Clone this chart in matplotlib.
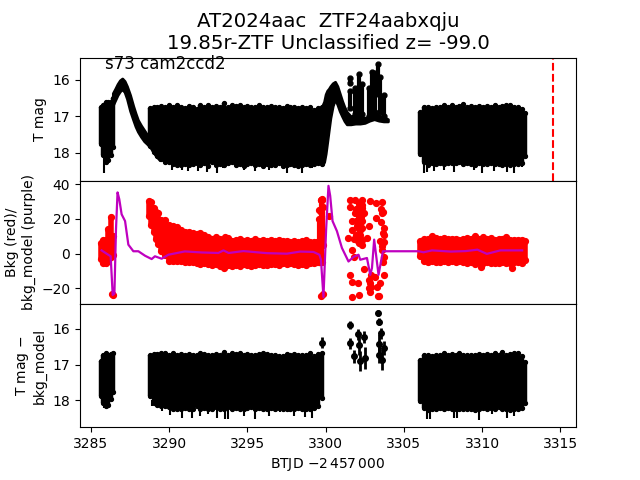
import matplotlib
matplotlib.use('Agg')
from matplotlib import pyplot as plt

# first sector chunk, T mag envelope
t_a = [3285.65, 3285.80, 3285.95, 3286.10, 3286.25, 3286.38]
top_a = [16.74, 16.68, 16.62, 16.60, 16.62, 16.50]
bot_a = [17.75, 18.05, 18.25, 18.20, 18.05, 17.85]

# the hump and its fall
t_hump = [3286.40, 3286.55, 3286.70, 3286.85, 3287.00, 3287.15, 3287.30, 3287.50, 3287.70, 3287.85, 3288.00, 3288.20, 3288.40, 3288.60, 3288.80, 3289.10, 3289.40]
top_hump = [16.37, 16.25, 16.12, 16.02, 15.97, 16.04, 16.18, 16.42, 16.72, 16.92, 17.10, 17.25, 17.38, 17.51, 17.65, 17.85, 18.00]
bot_hump = [16.70, 16.56, 16.42, 16.32, 16.26, 16.34, 16.52, 16.85, 17.10, 17.28, 17.42, 17.56, 17.68, 17.76, 17.85, 18.05, 18.20]

t_dense = [3288.75, 3289.00, 3289.25, 3289.50, 3289.75, 3290.00, 3290.25, 3290.50, 3290.75, 3291.00,
           3291.25, 3291.50, 3291.75, 3292.00, 3292.25, 3292.50, 3292.75, 3293.00, 3293.25, 3293.50,
           3293.75, 3294.00, 3294.25, 3294.50, 3294.75, 3295.00, 3295.25, 3295.50, 3295.75, 3296.00,
           3296.25, 3296.50, 3296.75, 3297.00, 3297.25, 3297.50, 3297.75, 3298.00, 3298.25, 3298.50,
           3298.75, 3299.00, 3299.25, 3299.50, 3299.75]
top_dense = [16.78, 16.74, 16.76, 16.72, 16.75, 16.68, 16.76, 16.70, 16.74, 16.77,
             16.72, 16.76, 16.80, 16.70, 16.74, 16.68, 16.74, 16.72, 16.76, 16.64,
             16.74, 16.70, 16.72, 16.68, 16.74, 16.72, 16.76, 16.74, 16.70, 16.74,
             16.76, 16.72, 16.76, 16.74, 16.78, 16.72, 16.76, 16.74, 16.78, 16.74,
             16.78, 16.74, 16.82, 16.78, 16.74]
bot_dense = [17.82, 17.97, 18.07, 18.17, 18.25, 18.25, 18.29, 18.33, 18.33, 18.31,
             18.33, 18.31, 18.27, 18.33, 18.27, 18.35, 18.25, 18.33, 18.29, 18.33,
             18.27, 18.25, 18.33, 18.29, 18.35, 18.31, 18.27, 18.33, 18.29, 18.35,
             18.31, 18.33, 18.33, 18.27, 18.35, 18.33, 18.31, 18.33, 18.35, 18.33,
             18.31, 18.33, 18.31, 18.27, 18.29]

# rise of the second hump and the flat stretch after it
t_rise = [3299.80, 3299.90, 3300.00, 3300.10, 3300.20, 3300.30, 3300.45, 3300.60, 3300.75, 3300.90, 3301.05, 3301.20, 3301.35,
          3301.60, 3301.90, 3302.20, 3302.50, 3302.80, 3303.10, 3303.40, 3303.70, 3303.98]
top_rise = [16.70, 16.60, 16.40, 16.30, 16.25, 16.18, 16.10, 16.06, 16.18, 16.38, 16.58, 16.75, 16.88,
            17.00, 16.96, 17.00, 17.04, 17.00, 16.90, 16.98, 17.02, 17.08]
bot_rise = [18.30, 18.25, 18.02, 17.70, 17.37, 17.05, 16.72, 16.53, 16.68, 16.86, 17.00, 17.13, 17.22,
            17.22, 17.20, 17.20, 17.18, 17.12, 17.08, 17.12, 17.14, 17.14]

# third chunk
t_b = [3306.05, 3306.30, 3306.55, 3306.80, 3307.05, 3307.30, 3307.55, 3307.80, 3308.05, 3308.30,
       3308.55, 3308.80, 3309.05, 3309.30, 3309.55, 3309.80, 3310.05, 3310.30, 3310.55, 3310.80,
       3311.05, 3311.30, 3311.55, 3311.80, 3312.05, 3312.30, 3312.55, 3312.72]
top_b = [16.88, 16.74, 16.74, 16.78, 16.74, 16.76, 16.68, 16.74, 16.70, 16.74,
         16.72, 16.66, 16.74, 16.72, 16.76, 16.72, 16.74, 16.72, 16.76, 16.68,
         16.74, 16.72, 16.68, 16.70, 16.74, 16.74, 16.80, 16.92]
bot_b = [18.02, 18.25, 18.33, 18.27, 18.31, 18.27, 18.29, 18.27, 18.27, 18.27,
         18.25, 18.29, 18.27, 18.31, 18.33, 18.27, 18.29, 18.31, 18.27, 18.31,
         18.29, 18.33, 18.31, 18.33, 18.29, 18.31, 18.27, 18.07]

# columns of points over the flat stretch, T mag
t_flare = [3301.57, 3301.57, 3301.89, 3302.10, 3302.32, 3302.74, 3302.95, 3303.17, 3303.32, 3303.49, 3303.70]
top_flare = [15.95, 16.32, 16.22, 15.85, 16.12, 16.22, 15.78, 15.82, 15.58, 15.92, 16.42]
bot_flare = [16.08, 16.78, 16.93, 16.93, 16.93, 16.98, 16.98, 16.88, 16.38, 16.88, 16.98]

# thin error bars under the bands
t_spike1 = [3285.83, 3290.17, 3290.80, 3291.23, 3291.87, 3292.40, 3293.04, 3293.47, 3294.75, 3295.50, 3296.35, 3297.52, 3298.48, 3299.12,
            3306.26, 3306.47, 3306.90, 3307.54, 3308.18, 3309.46, 3309.99, 3310.74, 3311.59, 3312.02, 3312.55]
low_spike1 = [18.55, 18.47, 18.47, 18.49, 18.49, 18.52, 18.55, 18.42, 18.47, 18.49, 18.47, 18.55, 18.54, 18.42,
              18.56, 18.51, 18.49, 18.47, 18.51, 18.47, 18.54, 18.49, 18.51, 18.54, 18.38]

# background panel, red points
t_red_a = [3285.65, 3285.80, 3285.95, 3286.10, 3286.25, 3286.38]
red_top_a = [6.0, 8.0, 8.0, 14.0, 21.0, 10.0]
red_bot_a = [-3.0, -5.5, -5.5, -4.0, -2.0, -1.0]
t_red_dense = [3288.70, 3288.85, 3289.00, 3289.15, 3289.30, 3289.50, 3289.75, 3290.00, 3290.25, 3290.50, 3290.75, 3291.00,
               3291.25, 3291.50, 3291.75, 3292.00, 3292.25, 3292.50, 3292.75, 3293.00, 3293.25, 3293.50, 3293.75, 3294.00,
               3294.25, 3294.50, 3294.75, 3295.00, 3295.25, 3295.50, 3295.75, 3296.00, 3296.25, 3296.50, 3296.75, 3297.00,
               3297.25, 3297.50, 3297.75, 3298.00, 3298.25, 3298.50, 3298.75, 3299.00, 3299.25, 3299.45, 3299.60]
red_top_dense = [30.5, 29.5, 26.5, 24.0, 23.5, 19.3, 19.5, 16.5, 16.0, 15.4, 13.5, 12.5,
                 12.5, 12.0, 11.5, 12.0, 10.5, 9.5, 8.7, 9.5, 8.5, 8.0, 9.0, 7.5,
                 8.0, 8.5, 7.5, 8.0, 7.5, 8.5, 7.5, 8.0, 7.5, 8.0, 7.5, 8.0,
                 7.5, 7.5, 7.0, 7.5, 7.0, 7.5, 8.0, 6.5, 7.0, 7.0, 7.5]
red_bot_dense = [21.5, 16.5, 12.5, 8.5, 5.5, 1.5, -0.5, -4.0, -4.0, -4.5, -4.5, -4.9,
                 -5.0, -5.0, -5.5, -6.0, -5.5, -6.0, -6.5, -6.0, -7.0, -8.3, -6.5, -7.0,
                 -6.5, -7.0, -6.0, -6.5, -7.0, -6.5, -6.0, -6.5, -6.5, -6.0, -6.0, -6.5,
                 -5.5, -6.0, -5.5, -6.0, -6.5, -6.0, -6.5, -5.5, -5.5, -5.0, -5.0]
t_red_column = [3299.60, 3299.68, 3299.76, 3299.84]
red_top_column = [20.0, 31.0, 31.0, 27.0]
red_bot_column = [-5.0, -5.0, -5.0, 5.0]
t_red_b = [3306.05, 3306.30, 3306.55, 3306.80, 3307.05, 3307.30, 3307.55, 3307.80, 3308.05, 3308.30,
           3308.55, 3308.80, 3309.05, 3309.30, 3309.55, 3309.80, 3310.05, 3310.30, 3310.55, 3310.80,
           3311.05, 3311.30, 3311.55, 3311.80, 3312.05, 3312.30, 3312.55, 3312.72]
red_top_b = [7.5, 8.5, 8.5, 10.0, 9.0, 8.5, 9.0, 8.5, 8.5, 8.5,
             8.0, 8.5, 9.0, 8.5, 10.0, 8.5, 9.5, 8.5, 9.0, 8.0,
             8.5, 8.5, 9.5, 8.0, 8.0, 8.0, 8.0, 7.5]
red_bot_b = [-1.5, -4.5, -5.0, -4.5, -5.0, -5.0, -4.5, -5.0, -4.5, -5.0,
             -4.5, -5.0, -5.5, -5.0, -6.0, -5.0, -5.5, -5.0, -5.5, -5.5,
             -5.5, -5.0, -5.5, -5.5, -5.0, -5.0, -5.5, -3.5]

# loose red points
t_red_pts = [3286.35, 3286.40, 3293.55, 3299.60, 3299.68, 3299.75, 3299.82, 3311.90, 3309.94,
             3301.57, 3301.57, 3301.85, 3302.32, 3302.85, 3303.23, 3303.60, 3301.89, 3302.42, 3303.23, 3303.60,
             3301.68, 3302.21, 3302.74, 3303.70, 3301.46, 3301.78, 3302.32, 3302.64, 3303.49, 3303.70,
             3301.68, 3302.21, 3303.60, 3301.57, 3301.68, 3302.04, 3302.42, 3302.74, 3302.74, 3303.17,
             3303.49, 3303.70, 3301.68, 3302.10, 3303.32, 3303.40, 3302.10, 3302.32, 3302.10, 3301.98,
             3302.32, 3302.21, 3301.98, 3299.68, 3299.72, 3300.20,
             3301.95, 3302.05, 3302.15, 3302.25, 3302.35, 3301.95, 3302.05, 3302.15, 3302.25, 3302.35,
             3301.95, 3302.05, 3302.15, 3302.25, 3302.35, 3303.55, 3303.65, 3303.55, 3303.65, 3303.70,
             3303.60, 3303.70, 3303.65, 3301.70, 3301.80, 3302.85, 3302.90, 3302.85, 3302.90, 3303.30]
v_red_pts = [-23.0, -24.0, 9.5, 25.0, 31.0, 31.5, -23.0, -8.5, -7.5,
             31.0, 27.1, 31.0, 31.0, 30.5, 29.0, 30.0, 23.6, 23.6, 20.7, 23.6,
             18.8, 17.8, 15.9, 14.9, 9.0, 8.5, 8.1, 9.0, 7.1, 11.0,
             13.9, 13.9, 4.2, -12.2, -16.1, -17.0, -8.9, -15.1, -20.0, -13.2,
             -17.0, -12.2, -24.8, -23.9, -24.2, -24.2, 28.5, 26.5, 20.7, 16.0,
             19.0, 11.0, 8.0, -24.5, 24.0, 22.0,
             26.0, 24.0, 22.0, 26.0, 28.0, 19.0, 17.0, 14.0, 21.0, 15.0,
             11.0, 9.0, 6.0, 7.0, 5.0, 26.0, 24.0, 18.0, 12.0, 7.0,
             2.0, -2.0, -5.0, 2.0, -2.0, -17.0, -19.0, -22.0, -12.0, -19.0]

# background model, purple line
t_model = [3285.68, 3286.00, 3286.26, 3286.39, 3286.50, 3286.60, 3286.70, 3286.81, 3286.96, 3287.18, 3287.39, 3287.71, 3288.03,
           3288.46, 3288.88, 3289.09, 3289.52, 3289.95, 3291.00, 3292.08, 3293.14, 3293.47, 3293.80, 3294.74, 3296.24, 3297.52,
           3298.37, 3299.22, 3299.60, 3299.70, 3299.86, 3300.03, 3300.18, 3300.29, 3300.44, 3300.72, 3301.04, 3301.46, 3301.78,
           3302.10, 3302.21, 3302.64, 3302.85, 3302.96, 3303.10, 3303.38, 3303.66, 3305.94, 3306.26, 3306.80, 3308.00, 3308.95,
           3309.70, 3310.30, 3311.17, 3312.56]
v_model = [1.9, 0.0, -1.5, -23.8, -23.0, 14.0, 35.3, 31.4, 22.7, 18.8, 5.2, 1.4, 1.4,
           -1.2, -3.1, -1.5, -2.9, -0.6, 1.3, 0.7, 0.4, 1.9, 0.4, 1.5, 0.3, 0.0,
           1.2, 1.0, -0.6, -3.5, -25.0, 14.0, 39.1, 33.3, 18.8, 13.0, 3.3, -4.5, -1.9,
           -0.6, -3.5, -2.5, -12.2, -8.3, 8.1, -12.2, 1.4, 1.4, 0.8, 1.9, 1.2, 1.5,
           2.3, -0.1, 1.9, 1.9]

# bottom panel
t_a3 = [3285.65, 3285.80, 3285.95, 3286.10, 3286.25, 3286.38]
top_a3 = [16.90, 16.74, 16.68, 16.72, 16.70, 16.68]
bot_a3 = [17.87, 18.07, 18.17, 18.12, 17.97, 17.77]
top_dense3 = [16.74, 16.70, 16.70, 16.68, 16.67, 16.72, 16.68, 16.72, 16.70, 16.74,
              16.70, 16.72, 16.74, 16.68, 16.70, 16.74, 16.74, 16.70, 16.72, 16.64,
              16.72, 16.68, 16.70, 16.68, 16.72, 16.70, 16.72, 16.74, 16.70, 16.68,
              16.70, 16.74, 16.74, 16.76, 16.76, 16.70, 16.74, 16.70, 16.74, 16.72,
              16.74, 16.68, 16.76, 16.70, 16.68]
bot_dense3 = [17.87, 18.07, 18.12, 18.17, 18.17, 18.19, 18.25, 18.23, 18.25, 18.21,
              18.23, 18.23, 18.17, 18.23, 18.21, 18.23, 18.23, 18.19, 18.23, 18.25,
              18.19, 18.23, 18.21, 18.23, 18.25, 18.21, 18.19, 18.23, 18.21, 18.25,
              18.23, 18.21, 18.25, 18.21, 18.23, 18.23, 18.23, 18.25, 18.21, 18.23,
              18.23, 18.23, 18.21, 18.17, 17.92]
t_b3 = [3306.05, 3306.30, 3306.55, 3306.80, 3307.05, 3307.30, 3307.55, 3307.80, 3308.05, 3308.30,
        3308.55, 3308.80, 3309.05, 3309.30, 3309.55, 3309.80, 3310.05, 3310.30, 3310.55, 3310.80,
        3311.05, 3311.30, 3311.55, 3311.80, 3312.05, 3312.30, 3312.55, 3312.72]
top_b3 = [16.88, 16.74, 16.72, 16.76, 16.74, 16.74, 16.68, 16.74, 16.70, 16.72,
          16.66, 16.74, 16.74, 16.72, 16.72, 16.70, 16.74, 16.70, 16.74, 16.66,
          16.74, 16.64, 16.72, 16.70, 16.68, 16.68, 16.76, 16.92]
bot_b3 = [18.02, 18.21, 18.27, 18.23, 18.25, 18.21, 18.23, 18.21, 18.23, 18.23,
          18.23, 18.25, 18.23, 18.25, 18.27, 18.23, 18.21, 18.23, 18.21, 18.25,
          18.19, 18.23, 18.25, 18.27, 18.25, 18.23, 18.21, 18.07]
t_spike3 = [3285.83, 3288.88, 3289.52, 3290.06, 3290.80, 3291.44, 3292.00, 3292.50, 3293.04, 3293.57, 3293.79, 3294.75, 3295.50, 3296.35,
            3297.10, 3297.95, 3298.70, 3299.12, 3306.47, 3306.64, 3308.18, 3308.40, 3309.83, 3310.63, 3311.59, 3312.02]
low_spike3 = [18.20, 18.16, 18.30, 18.40, 18.48, 18.48, 18.43, 18.38, 18.50, 18.53, 18.53, 18.44, 18.53, 18.44,
              18.33, 18.43, 18.46, 18.48, 18.53, 18.53, 18.50, 18.50, 18.55, 18.38, 18.48, 18.44]
t_iso3 = [3299.75, 3301.57, 3301.57, 3301.78, 3302.04, 3302.10, 3302.21, 3302.42, 3302.53, 3303.32, 3303.43, 3303.55, 3303.38, 3303.70, 3303.38, 3303.63]
mag_iso3 = [16.38, 15.89, 16.40, 16.77, 16.15, 16.44, 16.91, 16.23, 16.81, 15.56, 15.80, 16.12, 16.43, 16.54, 16.72, 16.86]
err_iso3 = [0.15, 0.12, 0.15, 0.18, 0.15, 0.28, 0.28, 0.16, 0.30, 0.08, 0.10, 0.15, 0.30, 0.20, 0.22, 0.30]

vline_t = 3314.56


def band(ax, t, lo, hi, color='k', lw=3.2, ms=2.8):
    ax.vlines(t, lo, hi, colors=color, lw=lw)
    ax.plot(t, lo, 'o', color=color, ms=ms)
    ax.plot(t, hi, 'o', color=color, ms=ms)


def main():
    fig = plt.figure(figsize=(6.4, 4.8), dpi=100)
    ax1 = fig.add_subplot(311)
    ax2 = fig.add_subplot(312, sharex=ax1)
    ax3 = fig.add_subplot(313, sharex=ax1)
    fig.subplots_adjust(hspace=0)

    band(ax1, t_a, top_a, bot_a)
    ax1.fill_between(t_hump, top_hump, bot_hump, color='k', lw=2)
    band(ax1, t_dense, top_dense, bot_dense)
    ax1.fill_between(t_rise, top_rise, bot_rise, color='k', lw=2)
    band(ax1, t_b, top_b, bot_b)
    ax1.vlines(t_spike1, 18.0, low_spike1, colors='k', lw=1.5)
    band(ax1, t_flare, top_flare, bot_flare, lw=3, ms=3.5)
    ax1.axvline(vline_t, color='r', ls='--', lw=1.5)
    ax1.text(3285.87, 15.72, 's73 cam2ccd2', fontsize=12)
    ax1.set_ylim(18.76, 15.4)
    ax1.set_yticks([16, 17, 18])
    ax1.set_ylabel('T mag')
    ax1.tick_params(bottom=False, labelbottom=False)
    ax1.set_title('AT2024aac  ZTF24aabxqju\n19.85r-ZTF Unclassified z= -99.0', fontsize=14.2)

    band(ax2, t_red_a, red_bot_a, red_top_a, 'r', 4, 4.2)
    band(ax2, t_red_dense, red_bot_dense, red_top_dense, 'r', 4, 4.2)
    band(ax2, t_red_column, red_bot_column, red_top_column, 'r', 3, 4.2)
    band(ax2, t_red_b, red_bot_b, red_top_b, 'r', 4, 4.2)
    ax2.plot(t_red_pts, v_red_pts, 'ro', ms=4.2)
    ax2.plot(t_model, v_model, color='#bf00bf', lw=1.6)
    ax2.set_ylim(-29, 42)
    ax2.set_yticks([-20, 0, 20, 40])
    ax2.set_ylabel('Bkg (red)/\nbkg_model (purple)')
    ax2.tick_params(bottom=False, labelbottom=False)

    band(ax3, t_a3, top_a3, bot_a3)
    band(ax3, t_dense, top_dense3, bot_dense3)
    band(ax3, t_b3, top_b3, bot_b3)
    ax3.vlines(t_spike3, 18.0, low_spike3, colors='k', lw=1.5)
    ax3.errorbar(t_iso3, mag_iso3, yerr=err_iso3, fmt='ko', ms=4, lw=2)
    ax3.set_ylim(18.75, 15.3)
    ax3.set_yticks([16, 17, 18])
    ax3.set_ylabel('T mag $-$\nbkg_model')
    ax3.set_xlabel(r'BTJD $-2\,457\,000$')
    ax3.set_xlim(3284.3, 3316)
    ax3.set_xticks([3285, 3290, 3295, 3300, 3305, 3310, 3315])

    fig.savefig('out.png', dpi=100)
    plt.close()


if __name__ == "__main__":
    main()
